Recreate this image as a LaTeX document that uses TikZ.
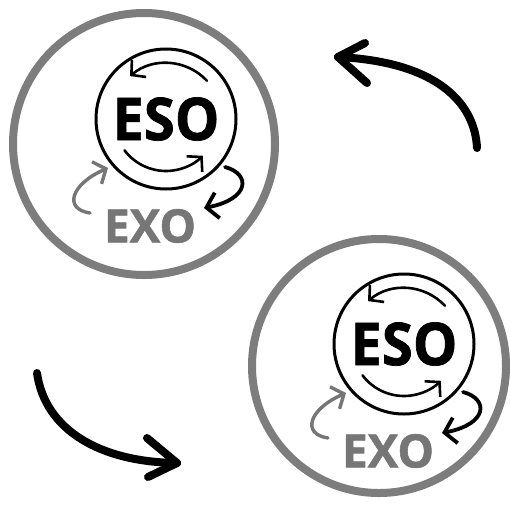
\documentclass[tikz,border=0pt]{standalone}
\usepackage{fontspec}
\setmainfont{Open Sans}
\newfontfamily\badgefont{Open Sans}[UprightFont=*-Bold, FakeBold=1.2]
\usetikzlibrary{arrows.meta,calc}
\definecolor{ringgray}{RGB}{125,125,125}
\definecolor{exogray}{RGB}{118,118,118}
\tikzset{
  ring/.style={circle, draw=ringgray, line width=8pt, inner sep=0pt},
  core/.style={circle, draw=black, line width=3pt, inner sep=0pt, minimum size=140pt,
    font=\badgefont\fontsize{59}{59}\selectfont},
  exolabel/.style={text=exogray, inner sep=0pt, font=\badgefont\fontsize{46}{46}\selectfont},
  spin/.style={draw=black, line width=2.6pt, line cap=round,
    -{Straight Barb[length=10pt, width=22pt, line width=2.6pt]}},
  outflow/.style={draw=black, line width=3.8pt, line cap=round,
    -{Straight Barb[length=11pt, width=26pt, line width=3.8pt]}},
  inflow/.style={draw=exogray, line width=3.4pt, line cap=round,
    -{Straight Barb[length=10pt, width=24pt, line width=3.4pt]}},
  bigarrow/.style={draw=black, line width=8pt, line cap=round, line join=round},
}
% one ESO/EXO badge: #1 name prefix, #2 ring centre, #3 ring diameter, #4 inner circle centre
\newcommand\badge[4]{%
  \node[ring, minimum size=#3] (#1ring) at (#2) {};
  \node[core] (#1eso) at (#4) {\scalebox{0.95}[1]{ESO}};
  \node[exolabel] (#1exo) at ($(#1eso.center)+(-16,107)$) {EXO};
  % spinning arrows round the core
  \draw[spin] ([shift={(-43:56)}]#1eso.center) arc[start angle=-43, end angle=-130, radius=56];
  \draw[spin] ([shift={(143:52)}]#1eso.center) arc[start angle=143, end angle=45, radius=52];
  % core to EXO and back
  \coordinate (#1outA) at ($(#1eso.center)+(59,48)$);
  \coordinate (#1outB) at ($(#1eso.center)+(38,89)$);
  \draw[outflow] (#1outA) .. controls +(26,7) and +(46,-9) .. (#1outB);
  \coordinate (#1inA) at ($(#1eso.center)+(-76,94)$);
  \coordinate (#1inB) at ($(#1eso.center)+(-58,49)$);
  \draw[inflow] (#1inA) .. controls +(-27,-4) and +(-37,16) .. (#1inB);
}
\begin{document}
\begin{tikzpicture}[x=1pt, y=-1pt]
  \useasboundingbox (0,0) rectangle (510,506);
  \fill[white] (0,0) rectangle (510,506);

  \badge{a}{144,144}{262pt}{166,119}
  \badge{b}{379,366}{254pt}{404,344}

  % big arrow, top right
  \coordinate (upS) at (477,148);
  \coordinate (upE) at (338,57);
  \draw[bigarrow] (upS) .. controls (475,105) and (440,62) .. (upE);
  \draw[bigarrow] (upE) -- ++(27,-14);
  \draw[bigarrow] (upE) -- ++(29,26);

  % big arrow, bottom left
  \coordinate (dnS) at (37,373);
  \coordinate (dnE) at (177,463);
  \draw[bigarrow] (dnS) .. controls (45,430) and (100,462) .. (dnE);
  \draw[bigarrow] (dnE) -- ++(-30,-25);
  \draw[bigarrow] (dnE) -- ++(-29,14);
\end{tikzpicture}
\end{document}
